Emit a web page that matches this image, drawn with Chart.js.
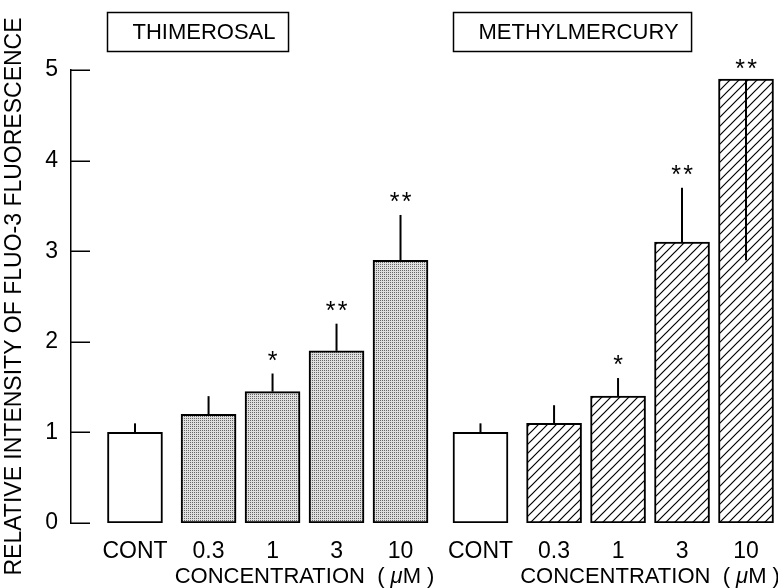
<!DOCTYPE html>
<html><head><meta charset="utf-8">
<script src="https://cdn.jsdelivr.net/npm/chart.js@4/dist/chart.umd.min.js"></script>
<style>html,body{margin:0;padding:0;background:#fff}#wrap{width:778px;height:588px}</style>
</head><body><div id="wrap"><canvas id="c" width="778" height="588"></canvas></div>
<script>
// ---- data ----
const compounds = ['THIMEROSAL', 'METHYLMERCURY'];
const concLabels = ['CONT', '0.3', '1', '3', '10'];
const thimerosalMean = [1.0, 1.2, 1.45, 1.9, 2.9];
const thimerosalSE = [0.1, 0.2, 0.2, 0.3, 0.5];
const thimerosalSig = ['', '', '*', '**', '**'];
const methylmercuryMean = [1.0, 1.1, 1.4, 3.1, 4.9];
const methylmercurySE = [0.1, 0.2, 0.2, 0.6, 2.0];
const methylmercurySig = ['', '', '*', '**', '**'];
const yTicks = [0, 1, 2, 3, 4, 5];
const xTitle = ['CONCENTRATION  ( ', 'μ', 'M )'];
const yTitle = 'RELATIVE INTENSITY OF FLUO-3 FLUORESCENCE';

// ---- layout ----
const FONT = '"Liberation Sans", Arial, Helvetica, sans-serif';
const contGap = 0.15, groupStep = 5.4;
function slot(g, i) { return g * groupStep + (i === 0 ? 0 : i + contGap); }

function stipplePattern() {
  const c = document.createElement('canvas'); c.width = 2; c.height = 2;
  const x = c.getContext('2d');
  x.fillStyle = '#dedede'; x.fillRect(0, 0, 2, 2);
  x.fillStyle = '#666666'; x.fillRect(0, 0, 1, 1);
  return x.createPattern(c, 'repeat');
}
function hatchPattern() {
  const s = 9;
  const c = document.createElement('canvas'); c.width = s; c.height = s;
  const x = c.getContext('2d');
  x.fillStyle = '#fff'; x.fillRect(0, 0, s, s);
  x.strokeStyle = '#000'; x.lineWidth = 1.2;
  x.beginPath();
  x.moveTo(-1, s + 1); x.lineTo(s + 1, -1);
  x.moveTo(-1, 1); x.lineTo(1, -1);
  x.moveTo(s - 1, s + 1); x.lineTo(s + 1, s - 1);
  x.stroke();
  return x.createPattern(c, 'repeat');
}
const fills = [stipplePattern(), hatchPattern()];

const means = [thimerosalMean, methylmercuryMean];
const ses = [thimerosalSE, methylmercurySE];
const sigs = [thimerosalSig, methylmercurySig];

const datasets = compounds.map((name, g) => ({
  label: name,
  data: means[g].map((v, i) => ({ x: slot(g, i), y: v })),
  backgroundColor: means[g].map((v, i) => i === 0 ? '#ffffff' : fills[g]),
  borderColor: '#000', borderWidth: 2, borderSkipped: false,
  barThickness: 55, grouped: false,
  se: ses[g], sig: sigs[g]
}));

const tickPositions = [];
const tickLabels = [];
compounds.forEach((n, g) => concLabels.forEach((l, i) => { tickPositions.push(slot(g, i)); tickLabels.push(l); }));

const annot = {
  id: 'annot',
  afterDatasetsDraw(chart) {
    const ctx = chart.ctx, ys = chart.scales.y, area = chart.chartArea;
    ctx.save();
    // inward y ticks
    ctx.strokeStyle = '#000'; ctx.lineWidth = 1.5;
    yTicks.forEach(v => {
      const py = Math.round(ys.getPixelForValue(v)) + 0.25;
      ctx.beginPath(); ctx.moveTo(area.left, py); ctx.lineTo(area.left + 19, py); ctx.stroke();
    });
    chart.data.datasets.forEach((ds, di) => {
      const meta = chart.getDatasetMeta(di);
      meta.data.forEach((el, i) => {
        const v = means[di][i], e = ds.se[i];
        let up = v + e <= ys.max;
        const yEnd = ys.getPixelForValue(up ? v + e : v - e);
        ctx.strokeStyle = '#000'; ctx.lineWidth = 2;
        ctx.beginPath(); ctx.moveTo(el.x, el.y); ctx.lineTo(el.x, yEnd); ctx.stroke();
        const s = ds.sig[i];
        if (s) {
          const anchor = up ? yEnd : el.y;
          const cy = anchor - (up ? 19 : 16);
          ctx.fillStyle = '#000'; ctx.font = '25px ' + FONT;
          ctx.textAlign = 'center'; ctx.textBaseline = 'alphabetic';
          const n = s.length;
          for (let k = 0; k < n; k++) {
            const cx = el.x + (k - (n - 1) / 2) * 12;
            ctx.fillText('*', cx, cy + 14);
          }
        }
      });
      // title box
      const first = meta.data[0];
      ctx.font = '22px ' + FONT;
      const tw = ctx.measureText(ds.label).width;
      const bx = Math.round(first.x - first.width / 2) + 0.5;
      ctx.lineWidth = 1.5; ctx.strokeStyle = '#000';
      ctx.strokeRect(bx, 12.5, tw + 38, 39);
      ctx.fillStyle = '#000'; ctx.textAlign = 'left'; ctx.textBaseline = 'middle';
      ctx.fillText(ds.label, bx + 25, 33);
      // x title
      let cx = 0;
      for (let i = 1; i < meta.data.length; i++) cx += meta.data[i].x;
      cx /= (meta.data.length - 1);
      const fN = '22px ' + FONT, fI = 'italic 22px ' + FONT;
      ctx.font = fN; const w0 = ctx.measureText(xTitle[0]).width, w2 = ctx.measureText(xTitle[2]).width;
      ctx.font = fI; const w1 = ctx.measureText(xTitle[1]).width;
      let sx = cx - (w0 + w1 + w2) / 2;
      const ty = 577;
      ctx.font = fN; ctx.fillText(xTitle[0], sx, ty); sx += w0;
      ctx.font = fI; ctx.fillText(xTitle[1], sx, ty); sx += w1;
      ctx.font = fN; ctx.fillText(xTitle[2], sx, ty);
    });
    ctx.restore();
  }
};

new Chart(document.getElementById('c'), {
  type: 'bar',
  data: { datasets },
  plugins: [annot],
  options: {
    responsive: false, animation: false, devicePixelRatio: 1,
    layout: { padding: { top: 70, right: 0, bottom: 0, left: 0 } },
    plugins: { legend: { display: false }, tooltip: { enabled: false } },
    scales: {
      x: {
        type: 'linear', min: -1, max: 10.05, offset: false,
        grid: { display: false, drawTicks: false }, border: { display: false },
        afterBuildTicks: s => { s.ticks = tickPositions.map(v => ({ value: v })); },
        ticks: {
          autoSkip: false, maxRotation: 0, color: '#000', padding: 15,
          font: { size: 23, family: FONT },
          callback: (v, i) => tickLabels[i]
        },
        afterFit: s => { s.height = 65; }
      },
      y: {
        min: 0, max: 5,
        afterBuildTicks: s => { s.ticks = yTicks.map(v => ({ value: v })); },
        grid: { display: false, drawTicks: false },
        border: { display: true, color: '#000', width: 1.5 },
        ticks: { color: '#000', padding: 13, font: { size: 23, family: FONT } },
        title: { display: true, text: yTitle, color: '#000', font: { size: 23, family: FONT }, padding: { top: 1, bottom: 0 } },
        afterFit: s => { s.width = 71; }
      }
    }
  }
});
</script></body></html>
